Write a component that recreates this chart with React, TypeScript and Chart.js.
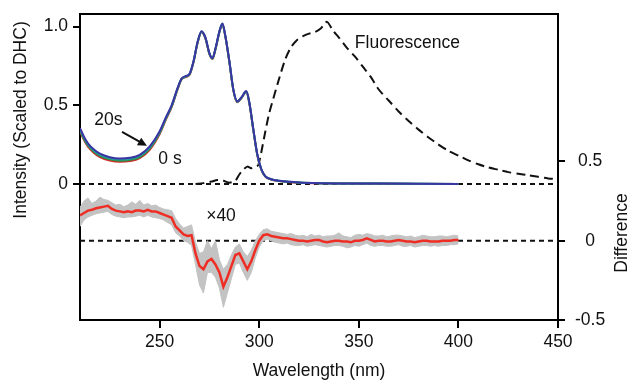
import React, { useEffect, useRef } from 'react';
import { Chart, registerables } from 'chart.js';
Chart.register(...registerables);

const FONT = '"Liberation Sans", Arial, Helvetica, sans-serif';

// x-axis ticks & axis ticks
const xTicks = [250, 300, 350, 400, 450];
const leftTicks = [0, 0.5, 1.0];
const rightTicks = [-0.5, 0, 0.5];

// Absorption spectra (scaled to DHC)
const absX = [210, 212, 214, 217, 220, 225, 230, 235, 240, 245, 250, 253, 256, 259, 261, 263, 265, 267, 269, 271, 273, 275, 276.5, 278, 280, 281.5, 283, 285, 287, 289, 291, 293.5, 295, 297, 299, 301, 303, 306, 310, 315, 320, 330, 340, 360, 380, 400];
const absBlue = [0.355, 0.30, 0.258, 0.218, 0.192, 0.170, 0.162, 0.166, 0.185, 0.238, 0.335, 0.42, 0.50, 0.61, 0.67, 0.685, 0.70, 0.78, 0.90, 0.97, 0.93, 0.83, 0.80, 0.86, 0.97, 1.02, 0.94, 0.78, 0.60, 0.525, 0.55, 0.59, 0.52, 0.35, 0.19, 0.095, 0.05, 0.03, 0.02, 0.013, 0.009, 0.005, 0.003, 0.002, 0.001, 0.0];
const absTeal = [0.348, 0.293, 0.251, 0.211, 0.185, 0.163, 0.155, 0.159, 0.178, 0.231, 0.329, 0.415, 0.496, 0.607, 0.668, 0.683, 0.698, 0.778, 0.898, 0.968, 0.928, 0.828, 0.798, 0.858, 0.968, 1.018, 0.938, 0.778, 0.598, 0.523, 0.548, 0.588, 0.518, 0.348, 0.188, 0.094, 0.049, 0.03, 0.02, 0.013, 0.009, 0.005, 0.003, 0.002, 0.001, 0.0];
const absGreen = [0.341, 0.286, 0.244, 0.204, 0.178, 0.156, 0.148, 0.152, 0.171, 0.224, 0.323, 0.41, 0.492, 0.604, 0.666, 0.681, 0.696, 0.776, 0.896, 0.966, 0.926, 0.826, 0.796, 0.856, 0.966, 1.016, 0.936, 0.776, 0.596, 0.521, 0.546, 0.586, 0.516, 0.346, 0.186, 0.093, 0.048, 0.029, 0.019, 0.012, 0.008, 0.005, 0.003, 0.002, 0.001, 0.0];
const absRed = [0.334, 0.279, 0.237, 0.197, 0.171, 0.149, 0.141, 0.145, 0.164, 0.217, 0.317, 0.405, 0.488, 0.601, 0.664, 0.679, 0.694, 0.774, 0.894, 0.964, 0.924, 0.824, 0.794, 0.854, 0.964, 1.014, 0.934, 0.774, 0.594, 0.519, 0.544, 0.584, 0.514, 0.344, 0.184, 0.092, 0.047, 0.028, 0.018, 0.011, 0.007, 0.004, 0.002, 0.001, 0.0, 0.0];

// Fluorescence (dashed)
const fluX = [268, 272, 276, 279, 282, 285, 288, 290, 292, 294, 296, 298, 299.5, 301, 303, 305, 307, 310, 313, 316, 319, 322, 325, 328, 331, 334, 337, 340, 344, 348, 352, 356, 360, 365, 370, 375, 380, 385, 390, 395, 400, 405, 410, 415, 420, 425, 430, 435, 440, 445, 450];
const fluY = [0.0, 0.005, 0.015, 0.025, 0.02, 0.008, 0.02, 0.06, 0.09, 0.11, 0.1, 0.11, 0.12, 0.2, 0.33, 0.45, 0.54, 0.67, 0.79, 0.87, 0.915, 0.94, 0.955, 0.965, 0.99, 1.03, 0.975, 0.93, 0.865, 0.81, 0.745, 0.68, 0.6, 0.53, 0.46, 0.4, 0.345, 0.295, 0.25, 0.21, 0.18, 0.15, 0.125, 0.105, 0.09, 0.075, 0.065, 0.055, 0.045, 0.035, 0.03];

// Difference (x40), right axis
const diffX = [210, 212, 214, 216, 218, 220, 222, 224, 226, 228, 230, 232, 234, 236, 238, 240, 242, 244, 246, 248, 250, 252, 254, 256, 258, 260, 262, 264, 266, 268, 270, 272, 274, 276, 278, 280, 282, 284, 286, 288, 290, 292, 294, 296, 298, 300, 302, 304, 306, 308, 310, 312, 314, 316, 318, 320, 322, 324, 326, 328, 330, 332, 334, 336, 338, 340, 342, 344, 346, 348, 350, 352, 354, 356, 358, 360, 362, 364, 366, 368, 370, 372, 374, 376, 378, 380, 382, 384, 386, 388, 390, 392, 394, 396, 398, 400];
const diffMean = [0.16, 0.175, 0.19, 0.195, 0.205, 0.21, 0.215, 0.22, 0.20, 0.19, 0.185, 0.18, 0.185, 0.18, 0.19, 0.19, 0.185, 0.195, 0.185, 0.185, 0.175, 0.165, 0.155, 0.145, 0.09, 0.065, 0.04, 0.03, 0.035, -0.08, -0.16, -0.18, -0.13, -0.115, -0.15, -0.2, -0.29, -0.23, -0.16, -0.09, -0.08, -0.13, -0.18, -0.13, -0.06, 0.0, 0.035, 0.04, 0.03, 0.025, 0.02, 0.015, 0.015, 0.01, 0.005, 0.0, 0.0, -0.005, 0.0, 0.005, 0.005, -0.005, -0.01, -0.005, 0.0, 0.0, -0.005, -0.005, -0.01, 0.0, 0.0, 0.005, 0.015, 0.005, -0.005, 0.0, 0.0, -0.005, -0.005, 0.0, 0.005, 0.0, -0.005, -0.005, -0.01, -0.005, 0.0, 0.0, -0.005, -0.005, -0.005, 0.0, 0.0, 0.0, 0.005, 0.005];
const diffUpper = [0.21, 0.25, 0.27, 0.235, 0.25, 0.275, 0.26, 0.255, 0.24, 0.225, 0.23, 0.215, 0.225, 0.245, 0.23, 0.255, 0.225, 0.235, 0.22, 0.225, 0.21, 0.20, 0.195, 0.19, 0.14, 0.105, 0.08, 0.09, 0.10, -0.01, -0.08, -0.07, 0.0, -0.05, 0.0, -0.12, -0.18, -0.15, -0.09, -0.04, -0.02, -0.07, -0.1, -0.06, 0.0, 0.04, 0.07, 0.075, 0.06, 0.055, 0.05, 0.045, 0.04, 0.045, 0.035, 0.03, 0.035, 0.025, 0.04, 0.03, 0.035, 0.025, 0.03, 0.03, 0.035, 0.05, 0.03, 0.025, 0.02, 0.035, 0.04, 0.035, 0.045, 0.04, 0.03, 0.03, 0.035, 0.025, 0.03, 0.035, 0.035, 0.03, 0.025, 0.03, 0.02, 0.025, 0.035, 0.03, 0.025, 0.025, 0.03, 0.03, 0.025, 0.03, 0.035, 0.03];
const diffLower = [0.09, 0.13, 0.15, 0.16, 0.17, 0.175, 0.18, 0.185, 0.165, 0.155, 0.15, 0.145, 0.15, 0.15, 0.155, 0.16, 0.15, 0.16, 0.15, 0.145, 0.14, 0.13, 0.115, 0.10, 0.05, 0.03, 0.0, -0.01, -0.03, -0.15, -0.28, -0.33, -0.2, -0.2, -0.23, -0.3, -0.42, -0.33, -0.24, -0.15, -0.14, -0.2, -0.25, -0.2, -0.11, -0.04, 0.0, 0.01, 0.0, -0.01, -0.015, -0.02, -0.015, -0.025, -0.03, -0.03, -0.025, -0.035, -0.03, -0.025, -0.03, -0.035, -0.04, -0.035, -0.03, -0.03, -0.035, -0.045, -0.04, -0.03, -0.035, -0.025, -0.015, -0.03, -0.035, -0.03, -0.03, -0.035, -0.035, -0.03, -0.025, -0.035, -0.035, -0.03, -0.04, -0.035, -0.03, -0.03, -0.035, -0.03, -0.035, -0.03, -0.03, -0.025, -0.025, -0.02];

// Zero reference lines
const zeroX = [210, 450];
const zeroY = [0, 0];

const pts = (xs: number[], ys: number[]) => xs.map((x, i) => ({ x, y: ys[i] }));

const noPad = (s: any) => {
  s.paddingTop = 0;
  s.paddingBottom = 0;
  s.paddingLeft = 0;
  s.paddingRight = 0;
};

export default function App() {
  const ref = useRef<HTMLCanvasElement>(null);
  useEffect(() => {
    const canvas = ref.current!;
    const annot = {
      id: 'annot',
      afterDraw(chart: any) {
        const { ctx, chartArea, scales } = chart;
        const xs = scales.x, yl = scales.y, yr = scales.y2;
        ctx.save();
        // top frame
        ctx.strokeStyle = '#000';
        ctx.lineWidth = 2;
        ctx.beginPath();
        ctx.moveTo(chartArea.left - 1, chartArea.top);
        ctx.lineTo(chartArea.right + 1, chartArea.top);
        ctx.stroke();

        ctx.fillStyle = '#111';
        ctx.font = `17.5px ${FONT}`;
        ctx.textBaseline = 'middle';
        ctx.textAlign = 'left';
        ctx.fillText('Fluorescence', xs.getPixelForValue(348), yl.getPixelForValue(0.896));
        ctx.textAlign = 'center';
        ctx.fillText('20s', xs.getPixelForValue(224.3), yl.getPixelForValue(0.407));
        ctx.fillText('0 s', xs.getPixelForValue(255.2), yl.getPixelForValue(0.159));
        ctx.fillText('\u00d740', xs.getPixelForValue(280.8), yr.getPixelForValue(0.156));

        // arrow
        const x1 = xs.getPixelForValue(231.1), y1 = yl.getPixelForValue(0.331);
        const x2 = xs.getPixelForValue(243.6), y2 = yl.getPixelForValue(0.242);
        const ang = Math.atan2(y2 - y1, x2 - x1);
        const hl = 10;
        ctx.strokeStyle = '#111';
        ctx.lineWidth = 2;
        ctx.beginPath();
        ctx.moveTo(x1, y1);
        ctx.lineTo(x2 - Math.cos(ang) * 6, y2 - Math.sin(ang) * 6);
        ctx.stroke();
        ctx.beginPath();
        ctx.moveTo(x2, y2);
        ctx.lineTo(x2 - hl * Math.cos(ang - 0.45), y2 - hl * Math.sin(ang - 0.45));
        ctx.lineTo(x2 - hl * Math.cos(ang + 0.45), y2 - hl * Math.sin(ang + 0.45));
        ctx.closePath();
        ctx.fill();

        // axis titles
        ctx.font = `17.5px ${FONT}`;
        ctx.textAlign = 'center';
        ctx.fillText('Wavelength (nm)', (chartArea.left + chartArea.right) / 2, 371);
        ctx.save();
        ctx.translate(21, 120);
        ctx.rotate(-Math.PI / 2);
        ctx.fillText('Intensity (Scaled to DHC)', 0, 0);
        ctx.restore();
        ctx.save();
        ctx.translate(622, 233);
        ctx.rotate(-Math.PI / 2);
        ctx.fillText('Difference', 0, 0);
        ctx.restore();
        ctx.restore();
      },
    };

    const absDs = (ys: number[], color: string) => ({
      data: pts(absX, ys), borderColor: color, borderWidth: 2, yAxisID: 'y',
      cubicInterpolationMode: 'monotone', pointRadius: 0, fill: false,
    });

    const chart = new Chart(canvas, {
      type: 'line',
      data: {
        datasets: [
          absDs(absBlue, '#3b35a3'),
          absDs(absTeal, '#1f9d9b'),
          absDs(absGreen, '#2f8f3c'),
          absDs(absRed, '#d42a2a'),
          { data: pts(fluX, fluY), borderColor: '#111', borderWidth: 2, borderDash: [9, 5], yAxisID: 'y', tension: 0.25, pointRadius: 0, fill: false },
          { data: pts(diffX, diffMean), borderColor: '#ee2e24', borderWidth: 2.5, yAxisID: 'y2', tension: 0, pointRadius: 0, fill: false },
          { data: pts(diffX, diffUpper), borderColor: '#c3c3c3', borderWidth: 1, backgroundColor: '#c3c3c3', yAxisID: 'y2', tension: 0, pointRadius: 0, fill: 7 },
          { data: pts(diffX, diffLower), borderColor: '#c3c3c3', borderWidth: 1, yAxisID: 'y2', tension: 0, pointRadius: 0, fill: false },
          { data: pts(zeroX, zeroY), borderColor: '#111', borderWidth: 2, borderDash: [5, 4], yAxisID: 'y', pointRadius: 0, fill: false },
          { data: pts(zeroX, zeroY), borderColor: '#111', borderWidth: 2, borderDash: [5, 4], yAxisID: 'y2', pointRadius: 0, fill: false },
        ] as any,
      },
      options: {
        responsive: false,
        animation: false,
        layout: { padding: { top: 14, left: 0, right: 0, bottom: 0 } },
        plugins: { legend: { display: false }, tooltip: { enabled: false } },
        elements: { point: { radius: 0 } },
        scales: {
          x: {
            type: 'linear', position: 'bottom', min: 210, max: 450,
            afterBuildTicks: (s: any) => { s.ticks = xTicks.map((v) => ({ value: v })); },
            afterFit: (s: any) => { s.height = 61; noPad(s); },
            grid: { display: true, drawOnChartArea: false, drawTicks: true, tickLength: 8, color: '#000', lineWidth: 2 },
            border: { display: true, color: '#000', width: 2 },
            ticks: { color: '#111', font: { family: FONT, size: 17.5 }, padding: 4, maxRotation: 0, autoSkip: false, callback: (v: any) => String(v) },
          },
          y: {
            type: 'linear', position: 'left', min: -0.865, max: 1.08,
            afterBuildTicks: (s: any) => { s.ticks = leftTicks.map((v) => ({ value: v })); },
            afterFit: (s: any) => { s.width = 80; noPad(s); },
            grid: { display: true, drawOnChartArea: false, drawTicks: true, tickLength: 7, color: '#000', lineWidth: 2 },
            border: { display: true, color: '#000', width: 2 },
            ticks: { color: '#111', font: { family: FONT, size: 17.5 }, padding: 5, autoSkip: false, callback: (v: any) => (v === 0 ? '0' : Number(v).toFixed(1)) },
          },
          y2: {
            type: 'linear', position: 'right', min: -0.5, max: 1.43,
            afterBuildTicks: (s: any) => { s.ticks = rightTicks.map((v) => ({ value: v })); },
            afterFit: (s: any) => { s.width = 71; noPad(s); },
            grid: { display: true, drawOnChartArea: false, drawTicks: true, tickLength: 7, color: '#000', lineWidth: 2 },
            border: { display: true, color: '#000', width: 2 },
            ticks: { color: '#111', font: { family: FONT, size: 17.5 }, padding: 10, crossAlign: 'center', autoSkip: false, callback: (v: any) => (v === 0 ? '0' : Number(v).toFixed(1)) },
          },
        },
      } as any,
      plugins: [annot],
    });
    return () => chart.destroy();
  }, []);
  return (
    <div style={{ position: 'fixed', left: 0, top: 0, width: 629, height: 381, background: '#fff' }}>
      <canvas ref={ref} width={629} height={381} style={{ display: 'block' }} />
    </div>
  );
}
